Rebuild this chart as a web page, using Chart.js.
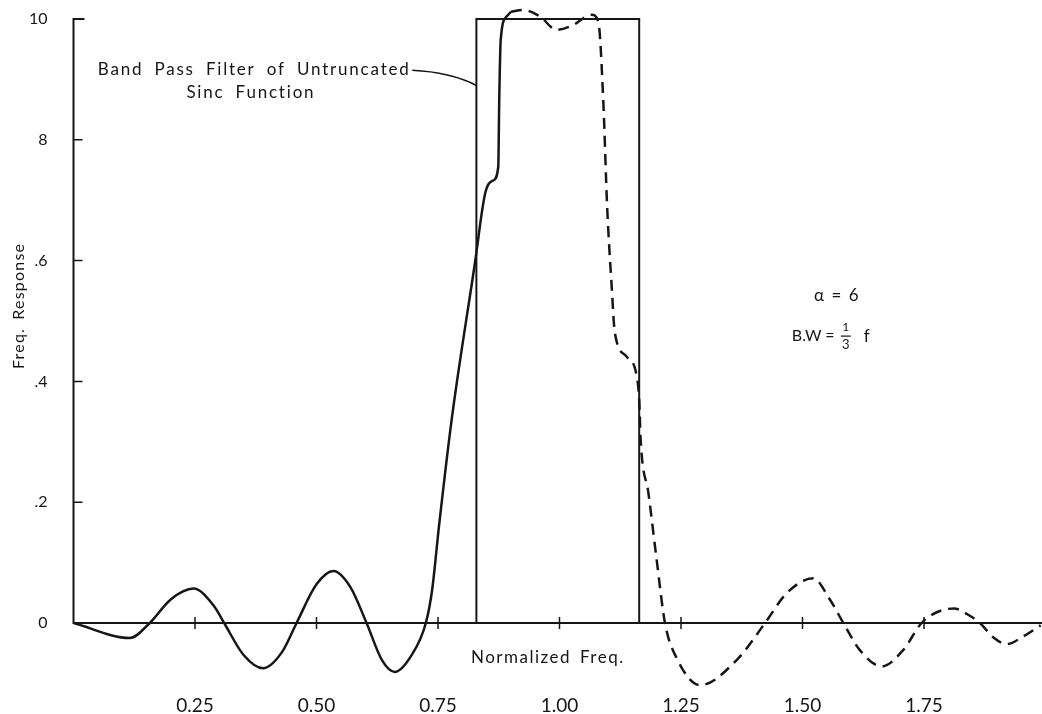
<!DOCTYPE html>
<html>
<head>
<meta charset="utf-8">
<title>Freq. Response</title>
<script src="https://cdn.jsdelivr.net/npm/chart.js@4"></script>
<style>
	html, body { margin: 0; padding: 0; background: #fff; }
	canvas { display: block; }
</style>
</head>
<body>
<canvas id="responseChart" width="1042" height="714"></canvas>
<script>

// ideal band pass, BW = 1/3 f
const idealFreq = [0.829, 0.829, 1.164, 1.164];
const idealResp = [0, 1.0, 1.0, 0];

// response, solid part
const solidFreq = [0, 0.116, 0.157, 0.200, 0.247, 0.290, 0.310, 0.350, 0.390, 0.430, 0.459, 0.500, 0.535, 0.570, 0.603, 0.635, 0.661, 0.695, 0.725, 0.738, 0.752, 0.778, 0.826, 0.847, 0.864, 0.874, 0.876, 0.879, 0.891, 0.900];
const solidResp = [0, -0.025, 0, 0.039, 0.057, 0.027, 0, -0.053, -0.075, -0.047, 0, 0.064, 0.086, 0.059, 0, -0.062, -0.081, -0.054, 0, 0.055, 0.160, 0.336, 0.596, 0.711, 0.733, 0.755, 0.866, 0.965, 1.004, 1.012];

// response, dashed part
const dashFreq = [0.900, 0.925, 0.960, 0.994, 1.028, 1.066, 1.080, 1.090, 1.098, 1.107, 1.114, 1.138, 1.159, 1.164, 1.167, 1.183, 1.200, 1.217, 1.241, 1.289, 1.365, 1.423, 1.467, 1.522, 1.557, 1.584, 1.618, 1.663, 1.707, 1.745, 1.780, 1.812, 1.840, 1.865, 1.893, 1.920, 1.955, 1.990];
const dashResp = [1.012, 1.015, 1.004, 0.982, 0.990, 1.007, 0.995, 0.866, 0.690, 0.562, 0.480, 0.441, 0.408, 0.369, 0.303, 0.215, 0.104, 0, -0.058, -0.103, -0.061, 0, 0.049, 0.074, 0.038, 0, -0.045, -0.072, -0.045, 0, 0.019, 0.024, 0.014, 0, -0.024, -0.035, -0.022, -0.004];

const xTicks = [0.25, 0.5, 0.75, 1.0, 1.25, 1.5, 1.75];
const xTickLabels = ['0.25', '0.50', '0.75', '1.00', '1.25', '1.50', '1.75'];
const yTicks = [0, 0.2, 0.4, 0.6, 0.8, 1.0];
const yTickLabels = ['0', '.2', '.4', '.6', '8', '10'];

const INK = '#161616';
const FONT = 'Lato, "DejaVu Sans", sans-serif';

function toPoints(xs, ys){
	return xs.map((x, i) => ({x: x, y: ys[i]}));
}

function note(ctx, str, x, y, align, size){
	ctx.font = size + 'px ' + FONT;
	ctx.textAlign = align;
	ctx.textBaseline = 'middle';
	ctx.fillText(str, x, y);
}

// axis lines, inward ticks and the lettering on the plot
const axesAndNotes = {
	id: 'axesAndNotes',
	beforeDatasetsDraw(chart){
		const ctx = chart.ctx, xs = chart.scales.x, ys = chart.scales.y;
		const x0 = xs.getPixelForValue(0), y0 = ys.getPixelForValue(0), y1 = ys.getPixelForValue(1);
		ctx.save();
		ctx.strokeStyle = INK;
		ctx.lineWidth = 2;
		ctx.beginPath();
		ctx.moveTo(x0 + 11, y1);
		ctx.lineTo(x0, y1);
		ctx.lineTo(x0, y0);
		ctx.lineTo(chart.chartArea.right, y0);
		ctx.stroke();
		ctx.lineWidth = 1.5;
		ctx.beginPath();
		yTicks.forEach(v => {
			if (v === 0 || v === 1) return;
			const p = ys.getPixelForValue(v);
			ctx.moveTo(x0, p);
			ctx.lineTo(x0 + 9, p);
		});
		xTicks.forEach(v => {
			const p = xs.getPixelForValue(v);
			ctx.moveTo(p, y0 - 6);
			ctx.lineTo(p, y0 + 6);
		});
		ctx.stroke();
		ctx.restore();
	},
	afterDraw(chart){
		const ctx = chart.ctx, xs = chart.scales.x, ys = chart.scales.y;
		const px = v => xs.getPixelForValue(v), py = v => ys.getPixelForValue(v);
		ctx.save();
		ctx.fillStyle = INK;
		ctx.strokeStyle = INK;
		ctx.letterSpacing = '1.8px';
		ctx.wordSpacing = '5px';
		note(ctx, 'Band Pass Filter of Untruncated', px(0.050), py(0.916), 'left', 17);
		note(ctx, 'Sinc Function', px(0.365), py(0.879), 'center', 17);
		ctx.wordSpacing = '3px';
		ctx.letterSpacing = '1.5px';
		note(ctx, 'Normalized Freq.', px(0.976), py(-0.058), 'center', 17);
		ctx.wordSpacing = '0px';
		note(ctx, 'α = 6', px(1.571), py(0.543), 'center', 17);

		// B.W = 1/3 f
		const bx = px(1.478), by = py(0.475);
		ctx.letterSpacing = '0px';
		note(ctx, 'B.W', bx, by, 'left', 16);
		note(ctx, '=', bx + 38, by, 'center', 16);
		note(ctx, '1', bx + 54, by - 9, 'center', 12);
		note(ctx, '3', bx + 54, by + 9, 'center', 13);
		ctx.lineWidth = 1.2;
		ctx.beginPath();
		ctx.moveTo(bx + 49, by);
		ctx.lineTo(bx + 59, by);
		ctx.stroke();
		note(ctx, 'f', bx + 75, by, 'center', 17);

		// leader from the label to the ideal band edge
		ctx.lineWidth = 1.5;
		ctx.beginPath();
		ctx.moveTo(px(0.697), py(0.915));
		ctx.quadraticCurveTo(px(0.775), py(0.912), px(idealFreq[0]), py(0.890));
		ctx.stroke();

		// y axis title
		ctx.letterSpacing = '1.2px';
		ctx.wordSpacing = '3px';
		ctx.translate(chart.chartArea.left - 55, py(0.525));
		ctx.rotate(-Math.PI / 2);
		note(ctx, 'Freq. Response', 0, 0, 'center', 16);
		ctx.restore();
	}
};

new Chart(document.getElementById('responseChart'), {
	type: 'line',
	data: {
		datasets: [
			{
				label: 'Ideal',
				data: toPoints(idealFreq, idealResp),
				borderColor: INK,
				borderWidth: 2,
				tension: 0,
				pointRadius: 0,
				fill: false
			},
			{
				label: 'Response',
				data: toPoints(solidFreq, solidResp),
				borderColor: INK,
				borderWidth: 2.5,
				cubicInterpolationMode: 'monotone',
				pointRadius: 0,
				fill: false
			},
			{
				label: 'Response (dashed)',
				data: toPoints(dashFreq, dashResp),
				borderColor: INK,
				borderWidth: 2.5,
				borderDash: [11, 7],
				cubicInterpolationMode: 'monotone',
				pointRadius: 0,
				fill: false
			}
		]
	},
	options: {
		responsive: false,
		animation: false,
		events: [],
		layout: { padding: 0 },
		plugins: {
			legend: { display: false },
			tooltip: { enabled: false }
		},
		scales: {
			x: {
				type: 'linear',
				position: { y: 0 },
				min: 0,
				max: 1.9928,
				afterBuildTicks: scale => { scale.ticks = xTicks.map(v => ({value: v})); },
				afterFit: scale => { scale.paddingLeft = 0; scale.paddingRight = 0; },
				grid: { display: false },
				border: { display: false },
				ticks: {
					padding: 63,
					maxRotation: 0,
					autoSkip: false,
					color: INK,
					font: { family: FONT, size: 19 },
					callback: (v, i) => xTickLabels[i]
				}
			},
			y: {
				type: 'linear',
				position: 'left',
				min: -0.1507,
				max: 1.0315,
				afterBuildTicks: scale => { scale.ticks = yTicks.map(v => ({value: v})); },
				afterFit: scale => { scale.width = 73.5; scale.paddingTop = 0; scale.paddingBottom = 0; },
				grid: { display: false },
				border: { display: false },
				ticks: {
					padding: 18,
					autoSkip: false,
					color: INK,
					font: { family: FONT, size: 16 },
					callback: (v, i) => yTickLabels[i]
				}
			}
		}
	},
	plugins: [axesAndNotes]
});
</script>
</body>
</html>
